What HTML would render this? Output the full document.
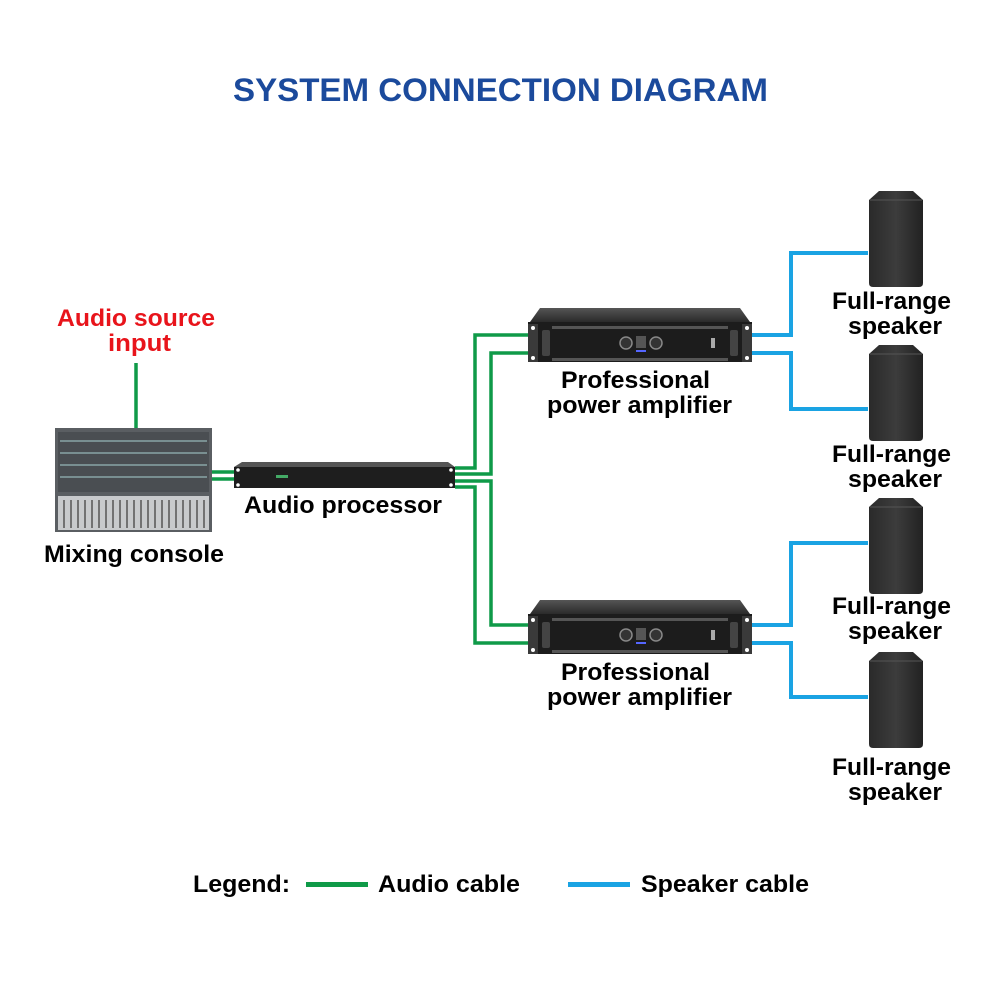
<!DOCTYPE html>
<html><head><meta charset="utf-8"><style>
body{margin:0;background:#fff;}
svg{display:block}
text{font-family:"Liberation Sans",Arial,sans-serif;font-weight:bold;}
</style></head><body>
<svg width="1000" height="1000" viewBox="0 0 1000 1000" xmlns="http://www.w3.org/2000/svg">
<defs>
<linearGradient id="spk" x1="0" x2="1"><stop offset="0" stop-color="#2a2a2a"/><stop offset="0.5" stop-color="#3c3c3c"/><stop offset="1" stop-color="#222"/></linearGradient>
<linearGradient id="amptop" x1="0" y1="0" x2="0" y2="1"><stop offset="0" stop-color="#555"/><stop offset="1" stop-color="#2a2a2a"/></linearGradient>
<g id="spkr">
<path d="M10,0 L44,0 L54,9 L54,92 Q54,96 50,96 L4,96 Q0,96 0,92 L0,9 Z" fill="url(#spk)"/>
<path d="M1,9 L53,9" stroke="#555" stroke-width="1"/>
</g>
<g id="amp">
<path d="M12,0 L212,0 L222,14 L2,14 Z" fill="url(#amptop)"/>
<rect x="0" y="14" width="224" height="40" fill="#1c1c1c"/>
<rect x="0" y="16" width="10" height="38" fill="#3a3a3a"/>
<rect x="214" y="16" width="10" height="38" fill="#3a3a3a"/>
<circle cx="5" cy="20" r="2" fill="#fff"/><circle cx="5" cy="50" r="2" fill="#fff"/>
<circle cx="219" cy="20" r="2" fill="#fff"/><circle cx="219" cy="50" r="2" fill="#fff"/>
<rect x="14" y="22" width="8" height="26" rx="2" fill="#444"/>
<rect x="202" y="22" width="8" height="26" rx="2" fill="#444"/>
<rect x="24" y="18" width="176" height="3" fill="#555"/>
<rect x="24" y="50" width="176" height="3" fill="#555"/>
<circle cx="98" cy="35" r="6" fill="#333" stroke="#888" stroke-width="1.5"/>
<circle cx="128" cy="35" r="6" fill="#333" stroke="#888" stroke-width="1.5"/>
<rect x="108" y="28" width="10" height="12" fill="#555"/>
<rect x="108" y="42" width="10" height="2" fill="#56f"/>
<rect x="183" y="30" width="4" height="10" fill="#aaa"/>
</g>
</defs>

<text x="233" y="101" font-size="32" fill="#1b4a9c" textLength="535" lengthAdjust="spacingAndGlyphs">SYSTEM CONNECTION DIAGRAM</text>

<g fill="none" stroke="#0f9a48" stroke-width="3.5">
<path d="M136,363 V430"/>
<path d="M212,472 H236 M212,479 H236"/>
<path d="M455,468 H475 V335 H530"/>
<path d="M455,474 H491 V353 H530"/>
<path d="M455,481 H491 V625 H530"/>
<path d="M455,487 H475 V643 H530"/>
</g>
<g fill="none" stroke="#1aa3e3" stroke-width="4">
<path d="M750,335 H791 V253 H868"/>
<path d="M750,353 H791 V409 H868"/>
<path d="M750,625 H791 V543 H868"/>
<path d="M750,643 H791 V697 H868"/>
</g>

<rect x="55" y="428" width="157" height="104" fill="#5a5e62"/>
<rect x="58" y="432" width="151" height="60" fill="#4a4e52"/>
<g fill="#9bb" opacity="0.6">
<rect x="60" y="440" width="147" height="2"/><rect x="60" y="452" width="147" height="2"/><rect x="60" y="464" width="147" height="2"/><rect x="60" y="476" width="147" height="2"/>
</g>
<rect x="58" y="496" width="151" height="34" fill="#c8cacc"/>
<g stroke="#555" stroke-width="1.5">
<path d="M64,500V528M71,500V528M78,500V528M85,500V528M92,500V528M99,500V528M106,500V528M113,500V528M120,500V528M127,500V528M134,500V528M141,500V528M148,500V528M155,500V528M162,500V528M169,500V528M176,500V528M183,500V528M190,500V528M197,500V528M204,500V528"/>
</g>
<path d="M242,462 L448,462 L455,467 L234,467 Z" fill="#555"/>
<rect x="234" y="467" width="221" height="21" fill="#1e1e1e"/>
<circle cx="238" cy="470" r="1.8" fill="#fff"/><circle cx="238" cy="485" r="1.8" fill="#fff"/>
<circle cx="451" cy="470" r="1.8" fill="#fff"/><circle cx="451" cy="485" r="1.8" fill="#fff"/>
<rect x="276" y="475" width="12" height="3" fill="#4a6"/>

<use href="#amp" x="528" y="308"/>
<use href="#amp" x="528" y="600"/>

<use href="#spkr" x="869" y="191"/>
<use href="#spkr" x="869" y="345"/>
<use href="#spkr" x="869" y="498"/>
<use href="#spkr" x="869" y="652"/>

<g font-size="24" fill="#000" lengthAdjust="spacingAndGlyphs">
<text x="57" y="326" fill="#e8141b" textLength="158" lengthAdjust="spacingAndGlyphs">Audio source</text>
<text x="108" y="351" fill="#e8141b" textLength="63" lengthAdjust="spacingAndGlyphs">input</text>
<text x="44" y="562" textLength="180" lengthAdjust="spacingAndGlyphs">Mixing console</text>
<text x="244" y="513" textLength="198" lengthAdjust="spacingAndGlyphs">Audio processor</text>
<text x="561" y="388" textLength="149" lengthAdjust="spacingAndGlyphs">Professional</text>
<text x="547" y="413" textLength="185" lengthAdjust="spacingAndGlyphs">power amplifier</text>
<text x="561" y="680" textLength="149" lengthAdjust="spacingAndGlyphs">Professional</text>
<text x="547" y="705" textLength="185" lengthAdjust="spacingAndGlyphs">power amplifier</text>
<text x="832" y="309" textLength="119" lengthAdjust="spacingAndGlyphs">Full-range</text>
<text x="848" y="334" textLength="94" lengthAdjust="spacingAndGlyphs">speaker</text>
<text x="832" y="462" textLength="119" lengthAdjust="spacingAndGlyphs">Full-range</text>
<text x="848" y="487" textLength="94" lengthAdjust="spacingAndGlyphs">speaker</text>
<text x="832" y="614" textLength="119" lengthAdjust="spacingAndGlyphs">Full-range</text>
<text x="848" y="639" textLength="94" lengthAdjust="spacingAndGlyphs">speaker</text>
<text x="832" y="775" textLength="119" lengthAdjust="spacingAndGlyphs">Full-range</text>
<text x="848" y="800" textLength="94" lengthAdjust="spacingAndGlyphs">speaker</text>
<text x="193" y="892" textLength="97" lengthAdjust="spacingAndGlyphs">Legend:</text>
<text x="378" y="892" textLength="142" lengthAdjust="spacingAndGlyphs">Audio cable</text>
<text x="641" y="892" textLength="168" lengthAdjust="spacingAndGlyphs">Speaker cable</text>
</g>
<rect x="306" y="882" width="62" height="5" fill="#0f9a48"/>
<rect x="568" y="882" width="62" height="5" fill="#1aa3e3"/>
</svg>
</body></html>
